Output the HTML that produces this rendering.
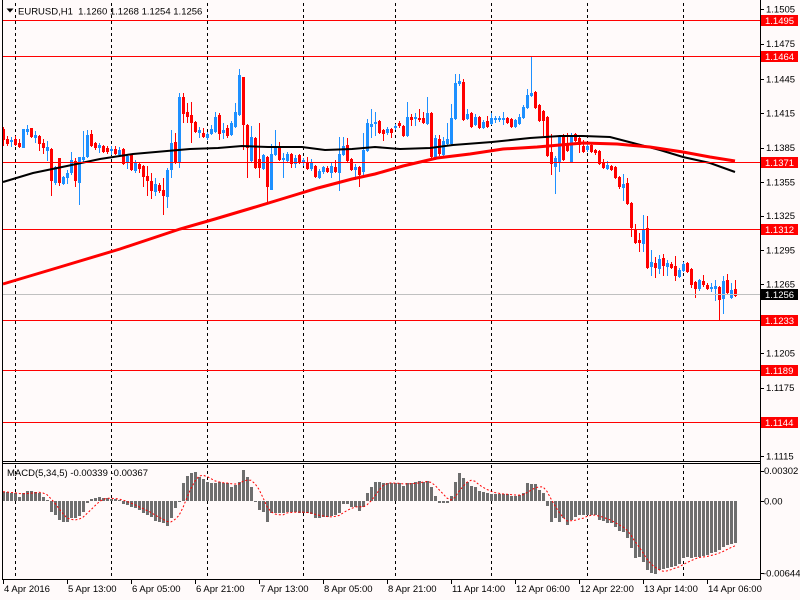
<!DOCTYPE html>
<html><head><meta charset="utf-8">
<style>
html,body{margin:0;padding:0;background:#fffafa;overflow:hidden;}
svg{display:block;}
text{font-family:"Liberation Sans",Arial,sans-serif;font-size:9.5px;fill:#000;}
</style></head><body>
<svg id="c" width="800" height="600" xmlns="http://www.w3.org/2000/svg"></svg>
<script>
var svg=document.getElementById('c');
var h='';
function add(s){h+=s;}
add('<rect x="0" y="0" width="800" height="600" fill="#fffafa"/>');
// grid
[15,111,207,303,395,491,587,683].forEach(function(x){
  add('<line x1="'+(x+0.5)+'" y1="3" x2="'+(x+0.5)+'" y2="579" stroke="#000" stroke-dasharray="3,3" stroke-width="1"/>');
});
// candles: [type(0 red,1 blue), top, bot, hi, lo]
var C=[
[0,129,139,127,145],[0,139,143,136,145],[1,140,141,137,146],[0,139,144,136,145],[0,143,146,139,147],
[1,129,147,129,147],[1,129,131,125,134],[0,128,136,128,137],[1,135,137,131,142],[0,136,143,135,150],
[0,143,147,139,153],[1,147,150,141,160],[0,149,180,148,195],[1,167,182,166,184],[0,158,182,158,185],
[1,177,183,176,184],[1,173,177,170,183],[1,160,172,152,174],[0,161,180,158,186],[1,157,182,157,204],
[1,157,159,131,162],[1,135,156,130,157],[0,134,145,130,146],[0,143,147,142,149],[1,145,147,143,152],
[0,146,151,145,152],[0,148,151,146,153],[1,149,150,146,154],[0,149,153,146,154],[1,150,154,147,155],
[0,149,163,148,164],[1,156,162,155,168],[0,154,169,154,170],[1,162,170,160,172],[0,164,168,162,172],
[0,166,176,165,186],[0,176,180,166,195],[0,181,190,173,198],[1,184,191,178,195],[0,185,190,183,192],
[0,190,195,178,214],[1,170,196,168,207],[1,143,169,130,177],[0,142,162,133,163],[1,97,162,93,167],
[0,97,113,93,122],[0,112,116,103,122],[0,115,122,102,142],[0,122,131,121,132],[1,130,132,127,137],
[0,133,136,128,137],[1,134,137,132,139],[1,129,133,125,134],[1,117,131,112,132],[0,115,133,113,139],
[1,130,132,123,138],[0,128,135,125,137],[1,123,134,121,135],[1,112,126,103,127],[1,75,114,69,115],
[0,77,124,77,149],[0,125,147,124,177],[1,137,160,126,161],[0,138,167,137,168],[0,159,167,123,177],
[1,155,168,154,169],[0,157,186,156,202],[1,154,189,144,189],[1,146,154,130,155],[0,147,159,142,160],
[1,158,159,153,177],[1,154,160,152,162],[0,154,163,153,167],[1,158,163,155,167],[0,155,162,154,163],
[1,160,162,158,165],[0,163,168,157,169],[1,163,168,159,170],[0,166,176,165,177],[1,171,177,169,178],
[1,167,171,166,173],[0,168,171,166,172],[1,166,172,163,177],[0,167,171,160,172],[1,154,172,137,190],
[1,146,154,137,155],[0,145,160,138,161],[0,159,169,158,170],[1,167,169,164,179],[0,167,174,166,186],
[1,150,171,133,177],[1,123,150,119,151],[1,124,126,109,137],[1,122,123,112,135],[0,121,132,120,133],
[0,130,133,129,140],[1,129,132,127,134],[0,129,132,128,137],[1,126,127,124,129],[0,123,125,121,127],
[0,126,135,125,136],[1,117,135,102,136],[0,117,119,114,125],[1,117,118,113,125],[0,118,119,109,121],
[0,118,122,112,123],[1,113,123,97,124],[0,113,156,112,158],[1,138,158,135,159],[0,139,153,135,155],
[1,141,154,137,155],[1,139,143,123,145],[1,118,143,104,144],[1,83,118,74,119],[1,81,83,74,85],
[0,82,119,79,120],[1,114,118,109,119],[0,113,126,112,127],[1,117,124,114,125],[0,117,127,116,128],
[1,122,127,120,128],[0,121,126,116,127],[1,118,123,113,124],[1,118,119,116,122],[1,118,119,116,121],
[1,118,119,112,124],[0,118,122,117,123],[0,119,126,118,127],[1,120,126,119,127],[1,117,123,114,124],
[1,107,117,105,118],[1,95,107,89,108],[1,93,95,56,96],[0,92,107,91,108],[0,105,120,104,121],
[0,111,120,110,135],[0,117,155,116,156],[0,152,163,134,174],[1,158,166,156,193],[1,136,161,135,171],
[0,135,159,134,160],[0,144,150,133,151],[1,135,161,133,162],[0,134,140,133,141],[0,138,144,137,152],
[0,146,151,140,152],[1,146,149,143,151],[0,145,151,142,152],[0,150,152,149,154],[0,151,163,150,164],
[0,163,167,159,168],[1,165,168,161,169],[0,166,169,165,170],[0,167,177,166,178],[0,177,186,176,188],
[1,184,187,174,200],[0,183,203,178,204],[0,203,227,202,236],[0,229,242,224,243],[0,240,242,233,251],
[1,230,243,215,251],[0,228,267,216,268],[1,262,266,250,275],[0,263,267,257,277],[1,259,268,255,273],
[0,258,265,254,275],[1,263,266,260,275],[0,264,267,262,268],[0,266,275,256,280],[1,270,276,268,277],
[1,264,270,262,271],[0,263,271,262,272],[0,269,284,268,287],[0,282,288,281,297],[1,280,288,279,290],
[0,281,284,275,286],[0,285,288,283,289],[1,287,288,283,291],[1,286,288,280,300],[0,287,299,286,320],
[1,281,298,276,313],[0,280,292,274,294],[1,290,297,283,298],[0,289,295,280,296]
];
C.forEach(function(c,i){
  var x=3+4*i, col=c[0]?'#1e90ff':'#ff0000';
  add('<rect x="'+x+'" y="'+c[3]+'" width="1" height="'+(c[4]-c[3]+1)+'" fill="'+col+'"/>');
  var bh=Math.max(1,c[2]-c[1]+ (c[2]-c[1]>0?1:0));
  add('<rect x="'+(x-1)+'" y="'+c[1]+'" width="3" height="'+bh+'" fill="'+col+'"/>');
});
// MAs
var black=[[3,182],[33,173],[67,166],[100,159],[133,154],[167,151],[190,149],[218,148],[242,146],[268,147],[302,147],[325,150],[352,149],[375,147],[400,149],[430,148],[453,145],[492,142],[530,138],[560,136],[583,136],[610,137],[633,143],[660,150],[683,157],[710,163],[735,172]];
var red=[[3,284],[60,267],[120,249],[180,229],[215,219],[252,208],[285,198],[318,188],[352,179],[375,174],[403,166],[437,158],[470,154],[503,149],[537,147],[583,143],[617,144],[650,147],[683,152],[710,157],[735,161]];
function pl(p){return p.map(function(a){return a[0]+','+a[1];}).join(' ');}
add('<polyline points="'+pl(black)+'" fill="none" stroke="#000" stroke-width="2"/>');
add('<polyline points="'+pl(red)+'" fill="none" stroke="#ff0000" stroke-width="3"/>');
// horizontal lines
[20,56,162,229,320,370,422].forEach(function(y){
  add('<line x1="2" y1="'+(y+0.5)+'" x2="760" y2="'+(y+0.5)+'" stroke="#ff0000" stroke-width="1"/>');
});
add('<line x1="2" y1="294.5" x2="760" y2="294.5" stroke="#c0c0c0" stroke-width="1"/>');
// MACD
var Z=[125,127,130,130,140,128,124,124,127,130,140,150,185,195,210,215,215,205,205,198,185,160,148,145,142,145,145,147,148,150,162,165,170,175,180,188,195,200,212,215,218,228,205,175,155,100,78,68,66,80,88,95,100,100,95,100,100,110,105,95,60,82,112,157,180,185,
215,190,190,190,188,185,185,185,188,190,190,192,203,203,200,200,198,195,190,162,162,170,172,182,170,128,112,97,97,100,100,100,100,100,108,100,98,95,93,95,93,110,138,158,158,158,138,97,70,85,95,108,110,122,125,128,132,132,133,133,133,138,138,135,128,100,102,
103,120,128,168,215,205,215,205,225,210,200,195,195,195,195,196,210,212,218,218,230,243,245,265,295,325,322,335,360,368,372,360,358,355,350,348,342,325,322,325,320,320,318,315,310,305,300,292,285,282,278];
var zero=501;
var Y=Z.map(function(z){return 450+z/3;});
Y.forEach(function(y,i){
  var x=3+4*i;
  var t=Math.min(y,zero), b=Math.max(y,zero);
  var hh=Math.max(1,Math.round(b-t));
  add('<rect x="'+(x-1)+'" y="'+Math.round(t)+'" width="3" height="'+hh+'" fill="#6e6e6e"/>');
});
var sig=[];
Y.forEach(function(y,i){var s=0,n=0;for(var k=Math.max(0,i-4);k<=i;k++){s+=Y[k];n++;}sig.push([3+4*i,(s/n).toFixed(1)]);});
add('<polyline points="'+pl(sig)+'" fill="none" stroke="#ff0000" stroke-width="1" stroke-dasharray="2,2"/>');
// frames
add('<line x1="2.5" y1="0" x2="2.5" y2="580" stroke="#000"/>');
add('<line x1="760.5" y1="0" x2="760.5" y2="580" stroke="#000"/>');
add('<line x1="2" y1="461.5" x2="761" y2="461.5" stroke="#000"/>');
add('<line x1="2" y1="463.5" x2="761" y2="463.5" stroke="#000"/>');
add('<line x1="2" y1="579.5" x2="761" y2="579.5" stroke="#000"/>');
// price axis labels
[['1.1505',9],['1.1475',43.5],['1.1445',79],['1.1415',113],['1.1385',147.5],['1.1355',182],['1.1325',215.5],['1.1295',250],['1.1265',284],['1.1205',353],['1.1175',387.5],['1.1115',456]].forEach(function(a){
  add('<line x1="761" y1="'+(Math.round(a[1])+0.5)+'" x2="764" y2="'+(Math.round(a[1])+0.5)+'" stroke="#000"/>');
  add('<text x="766" y="'+(a[1]+3.5)+'">'+a[0]+'</text>');
});
[['1.1495',20],['1.1464',56],['1.1371',162],['1.1312',229],['1.1233',320],['1.1189',370],['1.1144',422],['1.1256',294]].forEach(function(a){
  var col=a[0]==='1.1256'?'#000':'#ff0000';
  add('<rect x="761" y="'+(a[1]-5)+'" width="37" height="11" fill="'+col+'"/>');
  add('<text x="765" y="'+(a[1]+4)+'" style="fill:#fff">'+a[0]+'</text>');
});
// MACD axis
[['0.00302',470.5,764],['0.00',501,764],['-0.00644',573,763]].forEach(function(a){
  add('<line x1="761" y1="'+(Math.round(a[1])+0.5)+'" x2="764" y2="'+(Math.round(a[1])+0.5)+'" stroke="#000"/>');
  add('<text x="'+a[2]+'" y="'+(a[1]+3.5)+'">'+a[0]+'</text>');
});
// time axis
[['4 Apr 2016',3],['5 Apr 13:00',67],['6 Apr 05:00',131],['6 Apr 21:00',195],['7 Apr 13:00',259],['8 Apr 05:00',323],['8 Apr 21:00',387],['11 Apr 14:00',451],['12 Apr 06:00',515],['12 Apr 22:00',579],['13 Apr 14:00',643],['14 Apr 06:00',707]].forEach(function(a){
  add('<line x1="'+(a[1]+0.5)+'" y1="580" x2="'+(a[1]+0.5)+'" y2="584" stroke="#000"/>');
  add('<text x="'+(a[1]+1)+'" y="592">'+a[0]+'</text>');
});
// title
add('<path d="M6.5,8.5 L13.5,8.5 L10,12.5 Z" fill="#000"/>');
add('<text x="18" y="14.5" xml:space="preserve">EURUSD,H1  1.1260 1.1268 1.1254 1.1256</text>');
add('<text x="7" y="476">MACD(5,34,5) -0.00339 -0.00367</text>');
svg.innerHTML=h;
</script>
</body></html>
